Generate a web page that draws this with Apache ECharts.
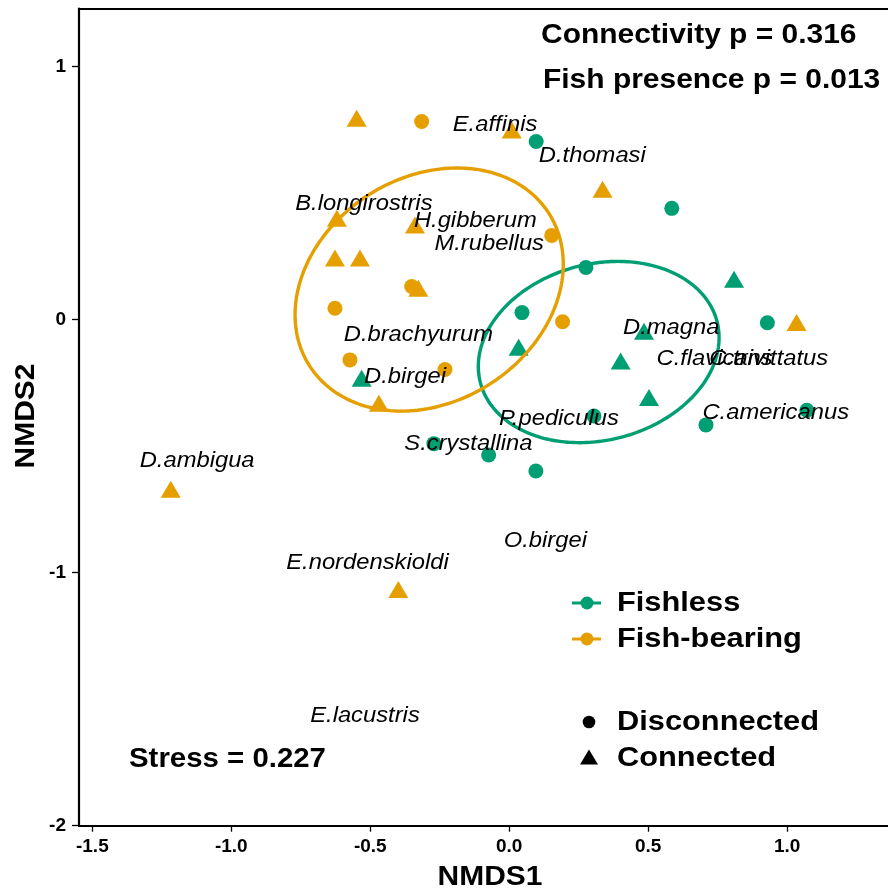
<!DOCTYPE html>
<html><head><meta charset="utf-8">
<script src="https://cdn.jsdelivr.net/npm/echarts@6/dist/echarts.min.js"></script>
<style>html,body{margin:0;padding:0;background:#fff}#c{width:888px;height:891px}</style>
</head><body><div id="c"></div>
<script>
const GREEN = '#009E73', ORANGE = '#E69F00';
const FONT = '"Liberation Sans", Arial, Helvetica, sans-serif';

const xTicks = [-1.5, -1.0, -0.5, 0.0, 0.5, 1.0];
const yTicks = [-2, -1, 0, 1];
const xRange = [-1.548, 1.363];
const yRange = [-2, 1.229];

// site scores
const fishBearingDisconnected = [[-0.315,0.783],[0.153,0.333],[-0.351,0.131],[-0.627,0.045],[-0.573,-0.159],[-0.231,-0.197],[0.192,-0.008]];
const fishBearingConnected = [[-0.549,0.796],[0.009,0.750],[0.336,0.515],[-0.620,0.401],[-0.339,0.374],[-0.627,0.244],[-0.537,0.244],[-0.327,0.124],[-0.469,-0.330],[-1.218,-0.670],[-0.399,-1.066],[1.034,-0.011]];
const fishlessDisconnected = [[0.097,0.704],[0.585,0.440],[0.276,0.206],[0.046,0.028],[0.929,-0.012],[0.305,-0.381],[0.708,-0.416],[1.071,-0.358],[-0.271,-0.490],[-0.074,-0.535],[0.096,-0.598]];
const fishlessConnected = [[0.809,0.160],[0.485,-0.046],[0.034,-0.109],[0.401,-0.163],[0.503,-0.308],[-0.531,-0.232]];

// species scores
const speciesNames = ['E.affinis','D.thomasi','B.longirostris','H.gibberum','M.rubellus','D.brachyurum','D.birgei','D.magna','C.flavicans','C.trivittatus','C.americanus','P.pediculus','S.crystallina','D.ambigua','E.nordenskioldi','E.lacustris','O.birgei'];
const speciesX = [-0.051,0.299,-0.523,-0.122,-0.072,-0.327,-0.375,0.583,0.739,0.934,0.959,0.179,-0.147,-1.123,-0.510,-0.519,0.130];
const speciesY = [0.770,0.646,0.457,0.391,0.301,-0.060,-0.227,-0.032,-0.155,-0.155,-0.368,-0.391,-0.492,-0.560,-0.961,-1.566,-0.874];

// ellipses: centre x, centre y, conjugate vector U (x,y), conjugate vector V (x,y)
const ellipseFishless = [0.322,-0.128,0.426,0.120,0.0785,-0.3375];
const ellipseFishBearing = [-0.288,0.119,0.432,0.299,0.215,-0.376];

const legendGroups = ['Fishless','Fish-bearing'];
const legendShapes = ['Disconnected','Connected'];
const statTexts = ['Connectivity p = 0.316','Fish presence p = 0.013','Stress = 0.227'];
const axisTitles = ['NMDS1','NMDS2'];

const chart = echarts.init(document.getElementById('c'), null, {renderer:'canvas'});

function ellipseItem(params, api){
  const cx=api.value(0), cy=api.value(1), ux=api.value(2), uy=api.value(3), vx=api.value(4), vy=api.value(5);
  const pts=[];
  for(let i=0;i<=240;i++){
    const t=2*Math.PI*i/240;
    pts.push(api.coord([cx+ux*Math.cos(t)+vx*Math.sin(t), cy+uy*Math.cos(t)+vy*Math.sin(t)]));
  }
  return {type:'polyline', shape:{points:pts}, style:{stroke:api.visual('color'), lineWidth:3.4, fill:null}, silent:true};
}
function labelItem(params, api){
  const p = api.coord([api.value(0), api.value(1)]);
  return {type:'text', x:p[0], y:p[1], scaleX:1.08, silent:true,
    style:{text:speciesNames[params.dataIndex], fill:'#000', fontSize:22, fontStyle:'italic', fontFamily:FONT, align:'center', verticalAlign:'middle'}};
}

const axisLineStyle = {color:'#000', width:2.2};
function boldText(text, x, y, opts){
  opts = opts || {};
  return {type:'text', x, y, scaleX:opts.scaleX||1.07, rotation:opts.rotation||0, silent:true,
    style:{text, fill:'#000', fontSize:opts.size||28, fontWeight:'bold', fontFamily:FONT, align:opts.align||'left', verticalAlign:'middle'}};
}

const lx = 587, tx = 617;
const graphic = [
  boldText(statTexts[0], 541, 35),
  boldText(statTexts[1], 543, 80),
  boldText(statTexts[2], 129, 759, {size:28, scaleX:1.05}),
  boldText(axisTitles[0], 490, 877, {align:'center'}),
  boldText(axisTitles[1], 26, 416, {align:'center', rotation:Math.PI/2}),
  {type:'line', shape:{x1:lx-15, y1:603, x2:lx+14, y2:603}, style:{stroke:GREEN, lineWidth:3}},
  {type:'circle', shape:{cx:lx, cy:603, r:6.5}, style:{fill:GREEN}},
  boldText(legendGroups[0], tx, 603, {scaleX:1.1}),
  {type:'line', shape:{x1:lx-15, y1:639, x2:lx+14, y2:639}, style:{stroke:ORANGE, lineWidth:3}},
  {type:'circle', shape:{cx:lx, cy:639, r:6.5}, style:{fill:ORANGE}},
  boldText(legendGroups[1], tx, 639, {scaleX:1.1}),
  {type:'circle', shape:{cx:589, cy:722, r:6.3}, style:{fill:'#000'}},
  boldText(legendShapes[0], tx, 722, {scaleX:1.1}),
  {type:'polygon', shape:{points:[[580,764.5],[598,764.5],[589,749.5]]}, style:{fill:'#000'}},
  boldText(legendShapes[1], tx, 758, {scaleX:1.1})
];

chart.setOption({
  animation:false,
  backgroundColor:'#fff',
  grid:{left:79, right:0, top:8.7, bottom:65.3, containLabel:false, outerBoundsMode:'none'},
  xAxis:[{
    type:'value', min:xRange[0], max:xRange[1], position:'bottom',
    axisLine:{show:true, onZero:false, lineStyle:axisLineStyle},
    axisTick:{show:true, length:6, customValues:xTicks, lineStyle:{color:'#000', width:1.3}},
    axisLabel:{show:true, customValues:xTicks, formatter:v=>v.toFixed(1), fontSize:19, fontWeight:'bold', color:'#000', fontFamily:FONT, margin:12},
    splitLine:{show:false}
  },{
    type:'value', min:xRange[0], max:xRange[1], position:'top',
    axisLine:{show:true, onZero:false, lineStyle:axisLineStyle},
    axisTick:{show:false}, axisLabel:{show:false}, splitLine:{show:false}
  }],
  yAxis:{
    type:'value', min:yRange[0], max:yRange[1],
    axisLine:{show:true, onZero:false, lineStyle:axisLineStyle},
    axisTick:{show:true, length:7, customValues:yTicks, lineStyle:{color:'#000', width:1.3}},
    axisLabel:{show:true, customValues:yTicks, formatter:v=>String(Math.round(v)), fontSize:19, fontWeight:'bold', color:'#000', fontFamily:FONT, margin:13},
    splitLine:{show:false}
  },
  series:[
    {type:'scatter', name:'Fish-bearing disconnected', data:fishBearingDisconnected, symbol:'circle', symbolSize:15, itemStyle:{color:ORANGE, opacity:1}, silent:true, z:2},
    {type:'scatter', name:'Fish-bearing connected', data:fishBearingConnected, symbol:'triangle', symbolSize:[20,17], itemStyle:{color:ORANGE, opacity:1}, silent:true, z:2},
    {type:'scatter', name:'Fishless disconnected', data:fishlessDisconnected, symbol:'circle', symbolSize:15, itemStyle:{color:GREEN, opacity:1}, silent:true, z:2},
    {type:'scatter', name:'Fishless connected', data:fishlessConnected, symbol:'triangle', symbolSize:[20,17], itemStyle:{color:GREEN, opacity:1}, silent:true, z:2},
    {type:'custom', name:'Fishless ellipse', data:[ellipseFishless], renderItem:ellipseItem, itemStyle:{color:GREEN}, z:3, silent:true},
    {type:'custom', name:'Fish-bearing ellipse', data:[ellipseFishBearing], renderItem:ellipseItem, itemStyle:{color:ORANGE}, z:4, silent:true},
    {type:'custom', name:'Species', data:speciesX.map((x,i)=>[x, speciesY[i]]), renderItem:labelItem, z:5, silent:true}
  ],
  graphic:graphic
});
</script>
</body></html>
